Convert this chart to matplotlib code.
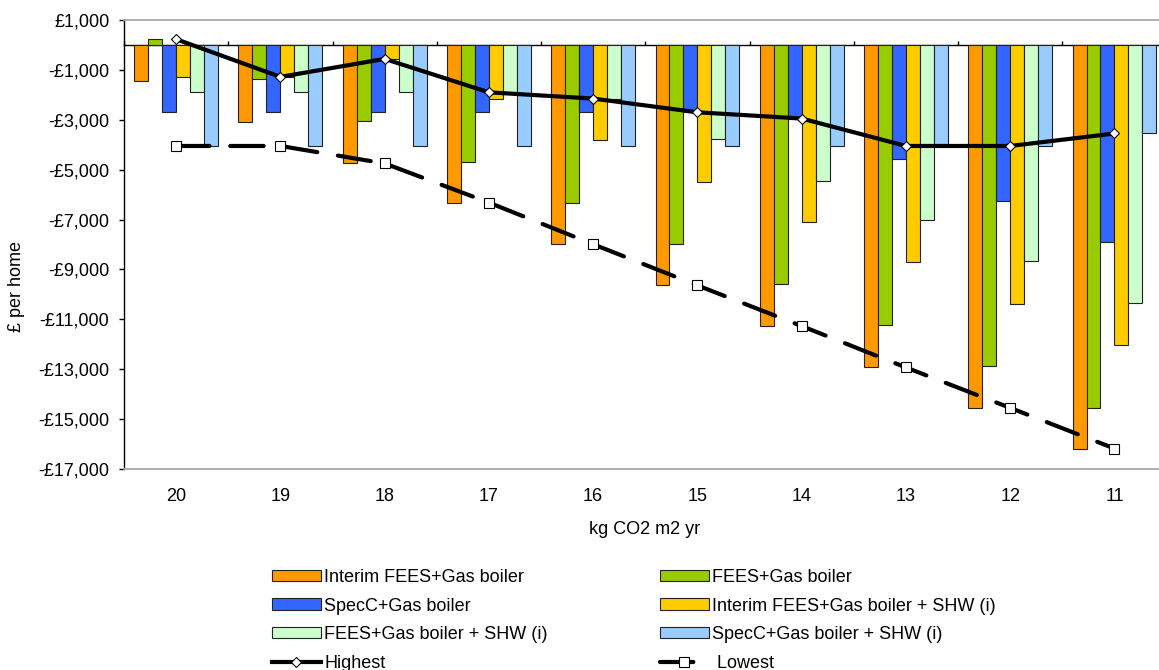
import numpy as np
import matplotlib.pyplot as plt

plt.rcParams['font.family'] = ['Liberation Sans', 'DejaVu Sans']
plt.rcParams['font.size'] = 13

# kg CO2 per m2 per year targets
categories = ['20', '19', '18', '17', '16', '15', '14', '13', '12', '11']

# cost per home for each package (GBP)
interim_fees = [-1450, -3100, -4750, -6320, -7990, -9640, -11270, -12930, -14550, -16180]
fees = [230, -1380, -3040, -4680, -6320, -7980, -9590, -11230, -12880, -14550]
specc = [-2700, -2700, -2700, -2700, -2700, -2700, -2950, -4590, -6250, -7890]
interim_fees_shw = [-1280, -1280, -560, -2180, -3810, -5480, -7090, -8720, -10390, -12030]
fees_shw = [-1890, -1890, -1890, -1900, -2150, -3790, -5440, -7030, -8680, -10340]
specc_shw = [-4050, -4050, -4050, -4050, -4050, -4050, -4050, -4050, -4050, -3550]

highest = [230, -1280, -560, -1900, -2150, -2700, -2950, -4050, -4050, -3550]
lowest = [-4050, -4050, -4750, -6320, -7990, -9640, -11270, -12930, -14550, -16180]

labels = ['Interim FEES+Gas boiler', 'FEES+Gas boiler', 'SpecC+Gas boiler',
          'Interim FEES+Gas boiler + SHW (i)', 'FEES+Gas boiler + SHW (i)',
          'SpecC+Gas boiler + SHW (i)']
colors = ['#FF9900', '#99CC00', '#3366FF', '#FFCC00', '#CCFFCC', '#99CCFF']
series = [interim_fees, fees, specc, interim_fees_shw, fees_shw, specc_shw]

W, H = 1159, 670
fig = plt.figure(figsize=(W / 100, H / 100), dpi=100)
ax = fig.add_axes([124 / W, 201 / H, 1042.6 / W, 449 / H])

ymin, ymax = -17000, 1000
x = np.arange(len(categories))
w = 0.134

bars = []
for i, vals in enumerate(series):
    b = ax.bar(x + (i - 2.5) * w, vals, w, color=colors[i], edgecolor='#222222',
               linewidth=0.8, label=labels[i], zorder=2)
    bars.append(b)

hi, = ax.plot(x, highest, color='black', lw=3, marker='D', ms=5.5, mfc='white',
              mec='black', mew=0.8, zorder=4, label='Highest')
lo, = ax.plot(x, lowest, color='black', lw=3, ls=(0, (8, 5)), dash_capstyle='round',
              marker='s', ms=7, mfc='white', mec='black', mew=0.8, zorder=4, label='Lowest')

ax.set_xlim(-0.5, len(categories) - 0.5)
ax.set_ylim(ymin, ymax)

# category axis crosses at zero, labels stay at the bottom
zero = ax.secondary_xaxis((0 - ymin) / (ymax - ymin))
zero.set_xticks(np.arange(len(categories) + 1) - 0.5)
zero.tick_params(axis='x', length=3, width=1, color='black', direction='out',
                 labeltop=False, labelbottom=False)
for s in zero.spines.values():
    s.set_color('black')
    s.set_linewidth(1)

ax.set_xticks(x, categories)
ax.tick_params(axis='x', length=0, pad=14)

yt = list(range(1000, -17001, -2000))
ax.set_yticks(yt, [('-£' if v < 0 else '£') + f'{abs(v):,}' for v in yt])
ax.tick_params(axis='y', length=3.6, width=1, pad=7)

ax.spines['left'].set_color('black')
ax.spines['left'].set_linewidth(1)
for side in ['top', 'bottom']:
    ax.spines[side].set_color('#AAAAAA')
    ax.spines[side].set_linewidth(1.3)
ax.spines['right'].set_visible(False)

fig.text(17 / W, 1 - 287 / H, '£ per home', rotation=90, ha='center', va='center')
fig.text(645 / W, 1 - 530 / H, 'kg CO2 m2 yr', ha='center', va='center')

leg_kw = dict(loc='upper left', frameon=False, handlelength=2.7, handleheight=0.6,
              handletextpad=0.2, labelspacing=0.64, borderpad=0, borderaxespad=0)
fig.legend([bars[0], bars[2], bars[4], hi], [labels[0], labels[2], labels[4], 'Highest'],
           bbox_to_anchor=(272 / W, 1 - 569 / H), **leg_kw)
fig.legend([bars[1], bars[3], bars[5], lo], [labels[1], labels[3], labels[5], ' Lowest'],
           bbox_to_anchor=(660 / W, 1 - 569 / H), **leg_kw)

fig.savefig('out.png', dpi=100)
